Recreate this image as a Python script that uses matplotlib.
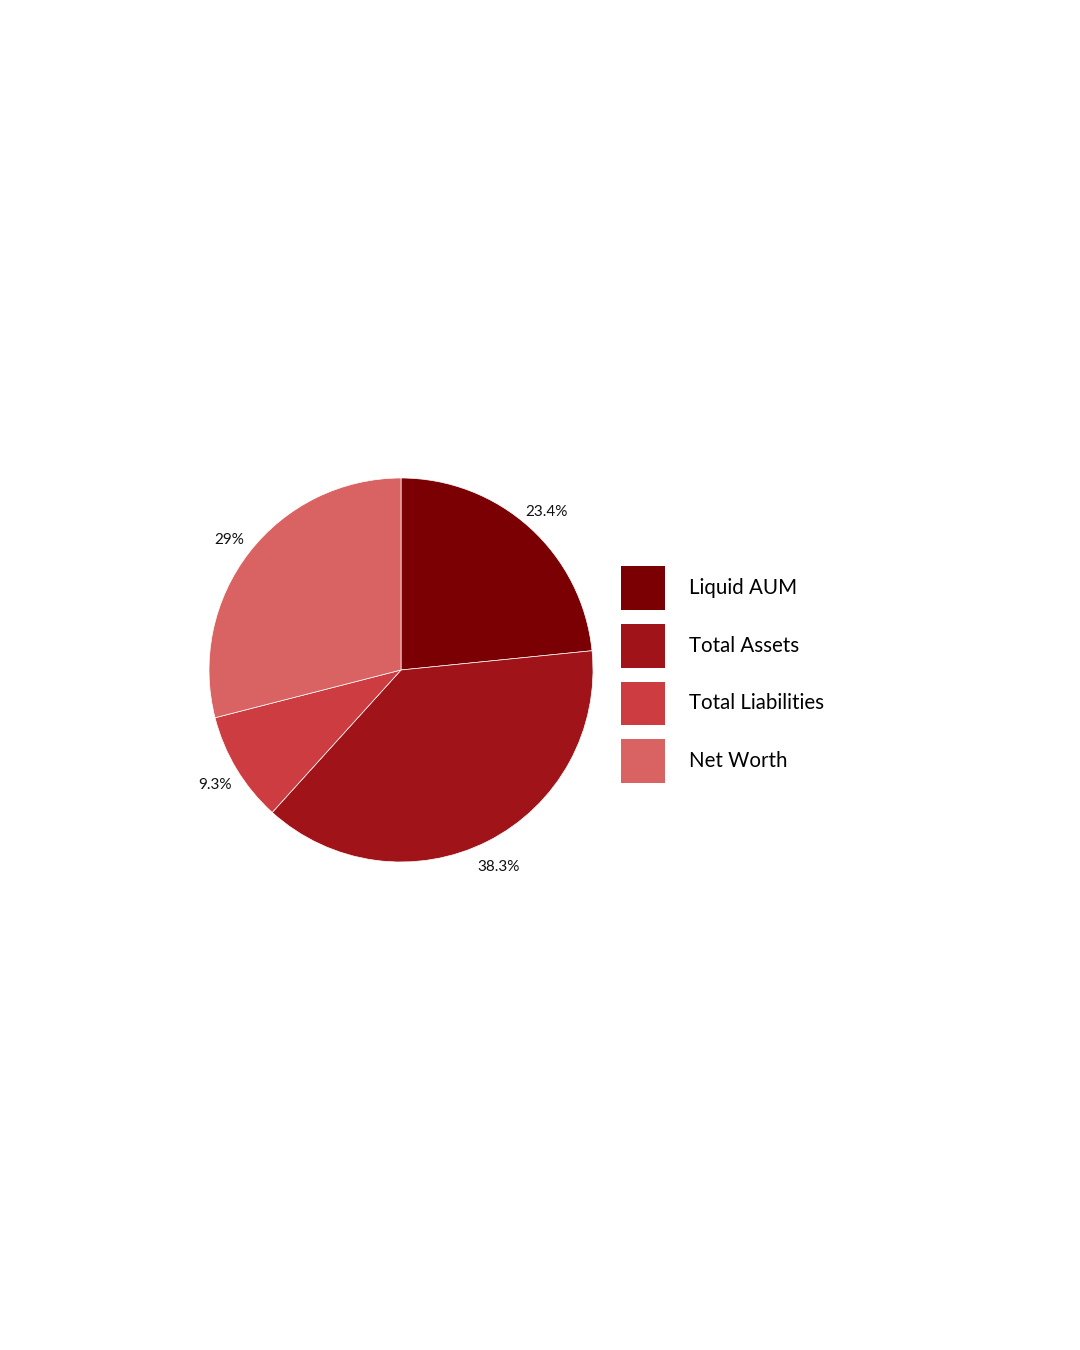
import matplotlib
matplotlib.use("Agg")
import matplotlib.pyplot as plt
import matplotlib.transforms as mtransforms
from matplotlib.patches import Patch

# data
labels = ['Liquid AUM', 'Total Assets', 'Total Liabilities', 'Net Worth']
values = [23.4, 38.3, 9.3, 29]
colors = ['#7b0004', '#a01318', '#cc3c40', '#d96262']

plt.rcParams['font.family'] = ['Lato', 'DejaVu Sans']

fig = plt.figure(figsize=(10.8, 13.5), dpi=100)
ax = fig.add_axes([209/1080, 1 - 862/1350, 384/1080, 384/1350])

def fmt(p):
    return '{:g}%'.format(round(p, 1))

wedges, texts, autotexts = ax.pie(values, colors=colors, startangle=90, counterclock=False,
                                  autopct=fmt, pctdistance=1.13,
                                  wedgeprops=dict(edgecolor='white', linewidth=0.5),
                                  textprops=dict(fontsize=11, color='#111111'))
# nudge labels down a little
shift = mtransforms.ScaledTranslation(0, -3/100, fig.dpi_scale_trans)
for t in autotexts:
    t.set_clip_on(False)
    t.set_transform(t.get_transform() + shift)
ax.set_xlim(-1, 1)
ax.set_ylim(-1, 1)
ax.set_aspect('equal')
ax.axis('off')

# square legend boxes
handles = [Patch(facecolor=c, edgecolor='none') for c in colors]
fig.legend(handles, labels, loc='upper left', bbox_to_anchor=(621/1080, 1 - 566/1350),
           frameon=False, fontsize=14.8, handlelength=2.13, handleheight=2.9,
           labelspacing=0.68, handletextpad=1.17, borderpad=0, borderaxespad=0)

fig.savefig('out.png', dpi=100, facecolor='white')
